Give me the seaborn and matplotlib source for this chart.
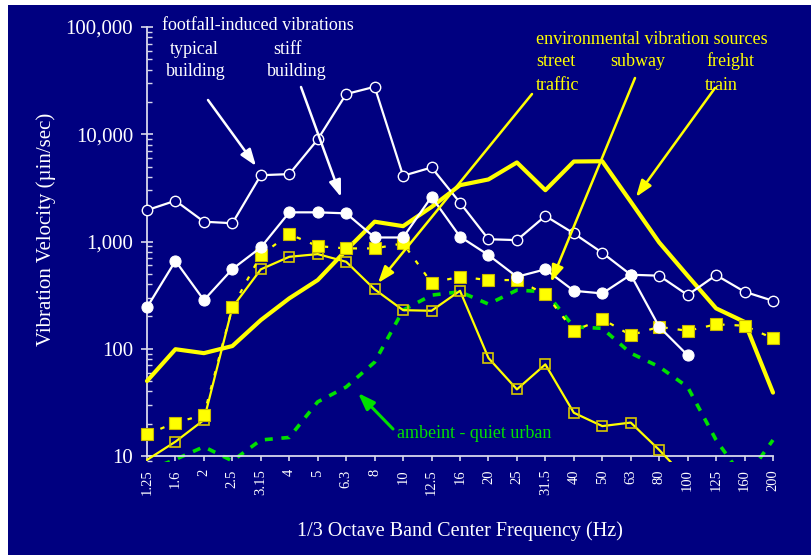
import numpy as np
import pandas as pd
import matplotlib
matplotlib.use("Agg")
import matplotlib.pyplot as plt
from matplotlib.patches import Rectangle
from matplotlib.ticker import FixedLocator, LogLocator, FuncFormatter, NullFormatter
import seaborn as sns

sns.set_style("white")
plt.rcParams['font.family'] = ['Liberation Serif', 'DejaVu Serif']

# ---------------- data ----------------
freqs = ['1.25', '1.6', '2', '2.5', '3.15', '4', '5', '6.3', '8', '10', '12.5', '16',
         '20', '25', '31.5', '40', '50', '63', '80', '100', '125', '160', '200']

typical_building = [1960, 2400, 1530, 1480, 4150, 4250, 8950, 23700, 27700, 4100, 4900, 2300,
                    1050, 1030, 1730, 1190, 785, 490, 480, 317, 486, 340, 280]
stiff_building = [243, 660, 284, 553, 880, 1870, 1870, 1830, 1090, 1090, 2610, 1110,
                  747, 469, 550, 347, 328, 490, 160, 87]
freight_train = [50, 99, 91, 106, 185, 295, 437, 830, 1530, 1390, 2100, 3350,
                 3790, 5460, 3010, 5570, 5600, 2350, 980, 480, 238, 178, 39]
subway = [9.2, 13.6, 21.7, 243, 550, 720, 763, 647, 358, 229, 226, 347,
          82, 41.8, 71.5, 25.3, 19, 20.5, 11.4, 6]
street_traffic = [15.9, 20.5, 24.1, 243, 747, 1170, 906, 862, 862, 960, 412, 469,
                  437, 437, 323, 147, 189, 134, 160, 147, 169, 164, 125]
ambient_urban = [7.3, 9.3, 12.2, 9, 14.1, 14.9, 32, 44, 75, 229, 316, 340,
                 261, 352, 340, 160, 155, 91, 68, 44, 14.1, 6, 14.1]

ytick_vals = [10, 100, 1000, 10000, 100000]

NAVY = '#000080'
YEL = '#ffff00'
GRN = '#00e000'
WHT = '#ffffff'
AXC = '#d8d8ec'

W, H = 812, 555
fig = plt.figure(figsize=(W / 100, H / 100), dpi=100)
fig.patch.set_facecolor('white')
fig.patches.append(Rectangle((8 / W, 0), 1 - 8 / W, 1 - 5 / H, transform=fig.transFigure,
                             facecolor=NAVY, edgecolor='none', zorder=-10))

# axes: data x 0 -> 147px, 22 -> 773px ; y 1e5 -> 27px, 10 -> 456px
pxu = (773 - 147) / 22
x0 = 147 - 0.3 * pxu
x1 = 773 + 0.3 * pxu
dec = (456 - 27) / 4
ybot = 456 + dec * (1 - np.log10(8.8))
ax = fig.add_axes([x0 / W, 1 - ybot / H, (x1 - x0) / W, (ybot - 27) / H])
ax.set_facecolor('none')


def xs(v):
    return np.arange(len(v))


# ambient - dashed green
sns.lineplot(x=xs(ambient_urban), y=ambient_urban, ax=ax, color=GRN, lw=2.6,
             linestyle=(0, (2.2, 2.4)), sort=False, legend=False, zorder=2)
# freight train - thick yellow
sns.lineplot(x=xs(freight_train), y=freight_train, ax=ax, color=YEL, lw=3.0,
             sort=False, legend=False, zorder=3)
# subway - thin yellow with open squares
sns.lineplot(x=xs(subway), y=subway, ax=ax, color=YEL, lw=1.6, marker='s', markersize=7.5,
             markerfacecolor='none', markeredgecolor='#d8c800', markeredgewidth=1.2,
             markevery=list(range(1, len(subway))), sort=False, legend=False, zorder=4)
# street traffic - dotted yellow with filled squares
sns.lineplot(x=xs(street_traffic), y=street_traffic, ax=ax, color=YEL, lw=1.6,
             linestyle=(0, (2, 4.5)), marker='s', markersize=8.8, markerfacecolor=YEL,
             markeredgecolor='#c8b800', markeredgewidth=0.8, sort=False, legend=False, zorder=5)
# typical building - white open circles
sns.lineplot(x=xs(typical_building), y=typical_building, ax=ax, color=WHT, lw=1.6,
             marker='o', markersize=7.5, markerfacecolor=NAVY, markeredgecolor=WHT,
             markeredgewidth=1.0, sort=False, legend=False, zorder=6)
# stiff building - white filled circles
sns.lineplot(x=xs(stiff_building), y=stiff_building, ax=ax, color=WHT, lw=1.6,
             marker='o', markersize=8.0, markerfacecolor=WHT, markeredgecolor=WHT,
             sort=False, legend=False, zorder=7)

for ln in ax.lines:
    ln.set_clip_on(True)

ax.set_yscale('log')
ax.set_xlim(-0.3, 22.3)
ax.set_ylim(8.8, 1e5)

for s in ['top', 'right']:
    ax.spines[s].set_visible(False)
ax.spines['left'].set_position(('data', 0))
ax.spines['left'].set_bounds(10, 1e5)
ax.spines['bottom'].set_position(('data', 10))
ax.spines['bottom'].set_bounds(0, 22)
for s in ['left', 'bottom']:
    ax.spines[s].set_color(AXC)
    ax.spines[s].set_linewidth(1.3)

ax.yaxis.set_major_locator(FixedLocator(ytick_vals))
ax.yaxis.set_major_formatter(FuncFormatter(lambda v, p: f'{int(round(v)):,}'))
ax.yaxis.set_minor_locator(LogLocator(base=10, subs=np.arange(2, 10), numticks=100))
ax.yaxis.set_minor_formatter(NullFormatter())
ax.tick_params(axis='y', which='both', left=True, right=False)
ax.tick_params(axis='x', which='major', bottom=True, top=False)
ax.tick_params(axis='y', which='major', direction='inout', length=8, width=1.2,
               color=AXC, labelcolor=WHT, labelsize=15, pad=6)
ax.tick_params(axis='y', which='minor', direction='in', length=3.4, width=1.0, color=AXC)

ax.set_xticks(np.arange(len(freqs)))
ax.set_xticklabels(freqs, rotation=90)
ax.tick_params(axis='x', which='major', direction='out', length=3.5, width=1.2,
               color=AXC, labelcolor=WHT, labelsize=10.5, pad=6)
ax.set_xlabel('')
ax.set_ylabel('')
ax.grid(False)

# axis titles
fig.text(460 / W, 1 - 531 / H, '1/3 Octave Band Center Frequency (Hz)', color=WHT,
         fontsize=14.5, ha='center', va='center')
fig.text(46 / W, 1 - 229 / H, 'Vibration Velocity (\u00b5in/sec)', color=WHT,
         fontsize=15, ha='center', va='center', rotation=90)


def ftext(x, y, s, color, **kw):
    fig.text(x / W, 1 - y / H, s, color=color, fontsize=13, ha='left', va='baseline', **kw)


ftext(162, 29.5, 'footfall-induced vibrations', WHT)
ftext(170, 53.5, 'typical', WHT)
ftext(166, 76, 'building', WHT)
ftext(273, 53.5, 'stiff', WHT)
ftext(267, 76, 'building', WHT)

ftext(536, 43.5, 'environmental vibration sources', YEL)
ftext(536, 66, 'street', YEL)
ftext(536, 90, 'traffic', YEL)
ftext(610, 66, 'subway', YEL)
ftext(706, 66, 'freight', YEL)
ftext(705, 90, 'train', YEL)

ftext(397, 437.5, 'ambeint - quiet urban', GRN)


def arrow(tail, head, color, lw=1.8):
    ax.annotate('', xy=(head[0], H - head[1]), xytext=(tail[0], H - tail[1]),
                xycoords='figure pixels', textcoords='figure pixels',
                arrowprops=dict(arrowstyle='-|>,head_length=1.0,head_width=0.36',
                                color=color, lw=lw, shrinkA=0, shrinkB=0,
                                mutation_scale=10),
                annotation_clip=False, zorder=10)


arrow((208, 100), (256, 166), WHT)
arrow((301, 87), (341, 197), WHT)
arrow((532, 94), (378, 283), YEL)
arrow((635, 78), (551, 282), YEL)
arrow((715, 88), (636, 197), YEL)
arrow((393, 429), (358, 393), GRN, lw=2.2)

fig.savefig('out.png', dpi=100, facecolor=fig.get_facecolor())
